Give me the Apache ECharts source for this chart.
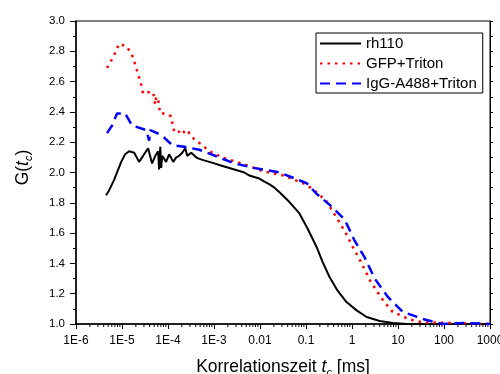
<!DOCTYPE html>
<html><head><meta charset="utf-8">
<script src="https://cdn.jsdelivr.net/npm/echarts/dist/echarts.min.js"></script>
<style>html,body{margin:0;padding:0;background:#fff}#c{width:500px;height:374px}</style>
</head><body><div id="c"></div>
<script>
const seriesNames = ['rh110', 'GFP+Triton', 'IgG-A488+Triton'];
const xTickLabels = ['1E-6', '1E-5', '1E-4', '1E-3', '0.01', '0.1', '1', '10', '100', '1000'];

// [Korrelationszeit (ms), G]
const rh110 = [
  [4.5e-6, 1.85], [5.2e-6, 1.88], [6.7e-6, 1.95], [9.6e-6, 2.07], [1.17e-5, 2.12], [1.43e-5, 2.14],
  [1.84e-5, 2.13], [2.36e-5, 2.07], [3.03e-5, 2.12], [3.7e-5, 2.16], [4.5e-5, 2.06], [5.3e-5, 2.11],
  [6.1e-5, 2.14], [6.4e-5, 2.02], [6.8e-5, 2.17], [7.1e-5, 2.03], [7.5e-5, 2.11], [9.1e-5, 2.07],
  [1.06e-4, 2.12], [1.3e-4, 2.07], [1.51e-4, 2.10], [1.75e-4, 2.11], [2.04e-4, 2.13], [2.37e-4, 2.16],
  [2.62e-4, 2.11], [3.2e-4, 2.13], [4.1e-4, 2.10], [4.8e-4, 2.09], [6.1e-4, 2.08], [7.9e-4, 2.07],
  [1.02e-3, 2.06], [1.3e-3, 2.05], [1.67e-3, 2.04], [2.15e-3, 2.03], [2.77e-3, 2.02], [3.56e-3, 2.01],
  [4.57e-3, 2.00], [5.9e-3, 1.98], [7.5e-3, 1.97], [9.7e-3, 1.96], [0.0125, 1.94], [0.0165, 1.92],
  [0.0206, 1.90], [0.0265, 1.87], [0.0437, 1.805], [0.072, 1.73], [0.108, 1.63], [0.169, 1.51],
  [0.229, 1.41], [0.325, 1.31], [0.486, 1.22], [0.76, 1.145], [1.26, 1.09], [2.08, 1.046],
  [4.0, 1.02], [7.7, 1.007], [15.6, 1.0], [50, 1.0], [150, 1.0], [500, 1.0], [1000, 1.0]
];
const gfpTriton = [
  [4.73e-6, 2.69], [6.4e-6, 2.76], [8.65e-6, 2.85], [1.29e-5, 2.83], [1.74e-5, 2.76], [2.13e-5, 2.67],
  [2.61e-5, 2.58], [2.88e-5, 2.52], [3.7e-5, 2.53], [4.76e-5, 2.53], [5.26e-5, 2.45], [5.53e-5, 2.50],
  [6.1e-5, 2.48], [6.76e-5, 2.39], [9.1e-5, 2.39], [1.17e-4, 2.37], [1.3e-4, 2.29], [1.44e-4, 2.26],
  [1.75e-4, 2.27], [2.04e-4, 2.25], [2.37e-4, 2.28], [2.62e-4, 2.28], [3.2e-4, 2.24], [3.72e-4, 2.22],
  [5.56e-4, 2.18], [7.9e-4, 2.14], [1.52e-3, 2.10], [3.94e-3, 2.06], [0.0113, 2.01], [0.0323, 1.98],
  [0.1026, 1.92], [0.169, 1.87], [0.28, 1.81], [0.537, 1.67], [0.762, 1.59], [1.03, 1.51],
  [1.39, 1.44], [1.88, 1.36], [2.54, 1.28], [3.61, 1.21], [4.88, 1.15], [7.66, 1.08],
  [18, 1.03], [34.5, 1.01], [63, 1.01], [244, 1.005], [1000, 1.0]
];
const iggTriton = [
  [4.73e-6, 2.26], [6.08e-6, 2.31], [7.8e-6, 2.39], [1.17e-5, 2.39], [1.66e-5, 2.31], [3.35e-5, 2.28],
  [3.7e-5, 2.28], [3.9e-5, 2.21], [4.1e-5, 2.28], [5.82e-5, 2.26], [8.26e-5, 2.23], [1.24e-4, 2.18],
  [2.26e-4, 2.17], [4.79e-4, 2.15], [8.73e-4, 2.12], [2.77e-3, 2.06], [7.55e-3, 2.03], [0.0265, 2.00],
  [0.103, 1.93], [0.169, 1.86], [0.378, 1.77], [0.69, 1.69], [1.14, 1.55], [1.88, 1.44],
  [3.11, 1.30], [5.97, 1.18], [12.7, 1.08], [38, 1.03], [94, 1.0], [257, 1.007], [1000, 1.0]
];

const minorX = [];
for (let e = -6; e < 3; e++) for (let k = 2; k <= 9; k++) minorX.push(k * Math.pow(10, e));

const FONT = 'Liberation Sans, Arial, sans-serif';
const richTitle = {
  n: {fontFamily: FONT, fontSize: 17.5, color: '#000'},
  i: {fontFamily: FONT, fontSize: 17.5, fontStyle: 'italic', color: '#000'},
  s: {fontFamily: FONT, fontSize: 11, fontStyle: 'italic', color: '#000', verticalAlign: 'bottom', padding: [10, 0, 0, 0]}
};
const chart = echarts.init(document.getElementById('c'), null, {renderer: 'canvas'});
chart.setOption({
  animation: false,
  backgroundColor: '#fff',
  grid: {left: 76, right: 10, top: 21, bottom: 50, show: true, borderColor: '#000', borderWidth: 1,
         containLabel: false, outerBoundsMode: 'none'},
  legend: {
    data: seriesNames, orient: 'vertical', left: 316, top: 33,
    borderColor: '#000', borderWidth: 1, padding: [3, 6, 2, 3],
    itemWidth: 41, itemHeight: 14, itemGap: 5,
    itemStyle: {opacity: 0},
    textStyle: {fontFamily: FONT, fontSize: 15, color: '#000'}
  },
  xAxis: [{
    type: 'log', logBase: 10, min: 1e-6, max: 1000, splitNumber: 9,
    name: '{n|Korrelationszeit }{i|t}{s|c}{n| [ms]}', nameLocation: 'middle', nameGap: 33,
    nameTextStyle: {rich: richTitle},
    axisLine: {lineStyle: {color: '#000', width: 1.5}},
    axisTick: {length: 5, lineStyle: {color: '#000', width: 1}},
    axisLabel: {fontFamily: FONT, fontSize: 12, color: '#000', margin: 11,
      formatter: v => xTickLabels[Math.round(Math.log10(v)) + 6]},
    splitLine: {show: false}
  }],
  yAxis: [{
    type: 'value', min: 1, max: 3, interval: 0.2,
    name: '{n|G(}{i|t}{s|c}{n|)}', nameLocation: 'middle', nameGap: 42,
    nameTextStyle: {rich: richTitle, padding: [0, 0, 0, 10]},
    axisLine: {show: true, lineStyle: {color: '#000', width: 1.5}},
    axisTick: {show: true, length: 6, lineStyle: {color: '#000', width: 1}},
    minorTick: {show: true, splitNumber: 2, length: 3, lineStyle: {color: '#000', width: 1}},
    axisLabel: {fontFamily: FONT, fontSize: 11.5, color: '#000', margin: 11, formatter: v => v.toFixed(1)},
    splitLine: {show: false}
  }, {
    type: 'value', position: 'right', min: 1, max: 3, interval: 0.1,
    axisLine: {show: true, lineStyle: {color: '#000', width: 1}},
    axisTick: {show: true, length: 3, lineStyle: {color: '#000', width: 1}},
    axisLabel: {show: false}, splitLine: {show: false}
  }],
  series: [
    {name: seriesNames[0], type: 'line', data: rh110, symbol: 'none',
     lineStyle: {color: '#000', width: 2}, itemStyle: {color: '#000'}},
    {name: seriesNames[1], type: 'line', data: gfpTriton, symbol: 'none',
     lineStyle: {color: '#ff0000', width: 2.5, type: [2.5, 5]}, itemStyle: {color: '#ff0000'}},
    {name: seriesNames[2], type: 'line', data: iggTriton, symbol: 'none',
     lineStyle: {color: '#0000ff', width: 2.5, type: [10, 6]}, itemStyle: {color: '#0000ff'}},
    {type: 'custom', silent: true, clip: false, data: minorX.map(v => [v, 1]),
     renderItem: (params, api) => {
       const p = api.coord([api.value(0), api.value(1)]);
       return {type: 'line', shape: {x1: p[0], y1: p[1], x2: p[0], y2: p[1] + 3},
               style: {stroke: '#000', lineWidth: 1}};
     }}
  ]
});
</script></body></html>
